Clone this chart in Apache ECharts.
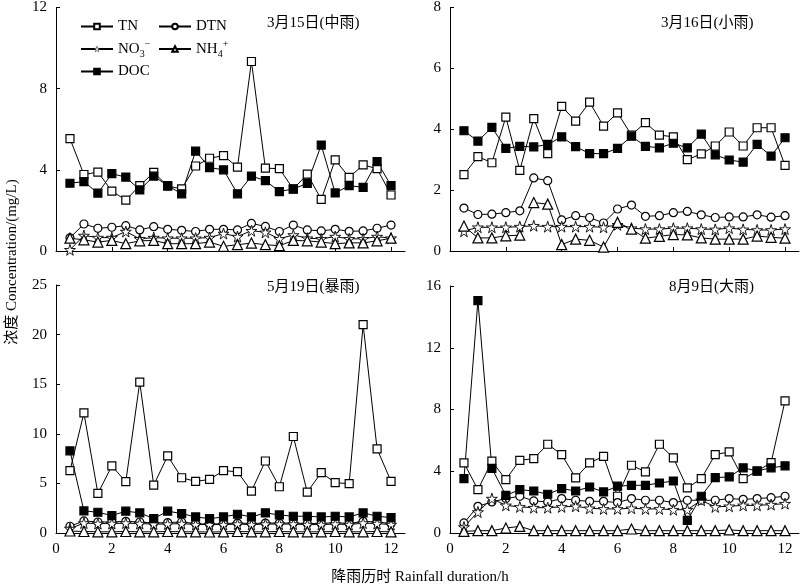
<!DOCTYPE html>
<html>
<head>
<meta charset="utf-8">
<script src="https://cdn.jsdelivr.net/npm/echarts@6/dist/echarts.min.js"></script>
<style>html,body{margin:0;padding:0;background:#fff;}#c{width:800px;height:585px;}</style>
</head>
<body>
<div id="c"></div>
<script>
// x positions (rainfall duration, h)
var xs = [0.5,1,1.5,2,2.5,3,3.5,4,4.5,5,5.5,6,6.5,7,7.5,8,8.5,9,9.5,10,10.5,11,11.5,12];
var xTicks = [0,2,4,6,8,10,12];

// 3月15日 (中雨)
var tn15  = [5.54,3.77,3.89,2.95,2.51,3.22,3.87,3.2,3.06,4.19,4.57,4.7,4.13,9.34,4.08,4.06,3.05,3.79,2.54,4.49,3.63,4.24,4.06,2.76];
var dtn15 = [0.65,1.33,1.12,1.17,1.25,1.04,1.2,1.07,1.02,0.96,1.07,1.07,1.04,1.36,1.21,0.96,1.28,1.04,0.99,1.07,0.97,0.99,1.12,1.28];
var no315 = [0.06,0.76,0.66,0.66,0.96,0.6,0.66,0.63,0.63,0.63,0.66,0.86,0.71,1.0,0.92,0.6,0.79,0.63,0.6,0.71,0.6,0.6,0.71,0.63];
var nh415 = [0.63,0.55,0.44,0.52,0.36,0.5,0.52,0.36,0.36,0.36,0.44,0.23,0.31,0.39,0.31,0.26,0.52,0.5,0.44,0.36,0.4,0.4,0.5,0.63];
var doc15 = [3.34,3.42,2.85,3.81,3.64,3.01,3.69,3.22,2.82,4.92,4.11,4.0,2.82,3.69,3.47,2.93,3.06,3.33,5.22,2.86,3.22,3.14,4.4,3.22];

// 3月16日 (小雨)
var tn16  = [2.51,3.1,2.9,4.4,2.65,4.35,3.2,4.75,4.27,4.89,4.1,4.54,3.81,4.22,3.81,3.75,3.0,3.19,3.45,3.91,3.45,4.05,4.05,2.81];
var dtn16 = [1.41,1.2,1.21,1.26,1.32,2.4,2.31,1.02,1.16,1.1,0.92,1.38,1.51,1.14,1.16,1.26,1.3,1.19,1.1,1.12,1.12,1.19,1.11,1.16];
var no316 = [0.65,0.78,0.78,0.78,0.8,0.83,0.8,0.8,0.8,0.8,0.78,0.86,0.75,0.72,0.72,0.75,0.75,0.72,0.71,0.75,0.71,0.69,0.69,0.72];
var nh416 = [0.82,0.43,0.43,0.5,0.52,1.59,1.54,0.21,0.39,0.35,0.13,0.94,0.72,0.42,0.48,0.54,0.53,0.43,0.39,0.39,0.39,0.49,0.45,0.42];
var doc16 = [3.95,3.61,4.06,3.37,3.44,3.42,3.5,3.75,3.43,3.2,3.2,3.37,3.77,3.44,3.39,3.54,3.39,3.84,3.16,2.99,2.92,3.5,3.12,3.72];

// 5月19日 (暴雨)
var tn19  = [6.28,12.1,3.99,6.76,5.17,15.2,4.83,7.77,5.57,5.2,5.4,6.28,6.18,4.22,7.26,4.66,9.73,4.12,6.08,5.07,4.97,21.0,8.48,5.2];
var dtn19 = [0.68,1.22,1.11,1.11,1.18,1.11,1.0,1.05,1.11,0.95,0.88,0.95,1.0,0.95,1.0,1.0,1.0,0.95,0.95,1.05,0.95,1.18,1.11,0.95];
var no319 = [0.45,1.0,0.95,0.95,1.0,0.95,0.9,0.9,0.95,0.85,0.85,0.85,0.9,0.85,0.9,0.9,0.9,0.85,0.85,0.9,0.85,1.0,0.95,0.85];
var nh419 = [0.2,0.15,0.12,0.12,0.15,0.12,0.12,0.15,0.12,0.12,0.1,0.12,0.15,0.12,0.12,0.15,0.12,0.12,0.12,0.15,0.12,0.12,0.15,0.12];
var doc19 = [8.28,2.23,2.09,1.76,2.2,2.03,1.45,2.2,1.96,1.62,1.45,1.62,1.89,1.62,2.03,1.82,1.69,1.69,1.62,1.69,1.62,2.03,1.69,1.55];

// 8月9日 (大雨)
var tn9  = [4.54,2.81,4.65,3.46,4.71,4.82,5.75,5.08,3.57,4.54,4.97,2.38,4.39,3.96,5.75,4.86,2.92,3.52,5.08,5.25,3.52,4.0,4.56,8.56];
var dtn9 = [0.65,1.73,2.01,2.23,2.38,2.08,2.01,2.23,2.12,2.05,2.05,1.97,2.23,2.12,2.12,1.97,2.12,2.12,2.12,2.23,2.18,2.23,2.29,2.38];
var no39 = [0.39,1.36,2.23,1.79,1.69,1.64,1.64,1.69,1.73,1.6,1.56,1.56,1.6,1.56,1.56,1.51,1.51,2.12,1.69,1.73,1.79,1.79,1.84,1.9];
var nh49 = [0.1,0.15,0.15,0.32,0.43,0.15,0.15,0.15,0.15,0.15,0.15,0.15,0.26,0.15,0.15,0.15,0.15,0.15,0.15,0.2,0.15,0.15,0.15,0.15];
var doc9 = [3.52,15.05,4.19,2.44,2.81,2.72,2.51,2.88,2.72,2.98,2.66,3.03,3.09,3.09,3.24,3.37,0.82,2.38,3.59,3.63,4.22,4.02,4.22,4.35];

var panelTitles = ['3月15日(中雨)','3月16日(小雨)','5月19日(暴雨)','8月9日(大雨)'];
var yMax = [12, 8, 25, 16];
var yInterval = [4, 2, 5, 4];

var panels = [
  {TN: tn15, DTN: dtn15, NO3: no315, NH4: nh415, DOC: doc15},
  {TN: tn16, DTN: dtn16, NO3: no316, NH4: nh416, DOC: doc16},
  {TN: tn19, DTN: dtn19, NO3: no319, NH4: nh419, DOC: doc19},
  {TN: tn9,  DTN: dtn9,  NO3: no39,  NH4: nh49,  DOC: doc9}
];

var FONT = '"Liberation Serif","Times New Roman","Noto Sans CJK SC",serif';
var STAR = 'path://M50,0 L61,35 L98,35 L68,57 L79,91 L50,70 L21,91 L32,57 L2,35 L39,35 Z';
var styles = {
  TN:  {symbol: 'rect', size: 8, fill: '#fff', bw: 1.2},
  DTN: {symbol: 'circle', size: 8, fill: '#fff', bw: 1.2},
  NO3: {symbol: STAR, size: 11, fill: '#fff', bw: 0.9},
  NH4: {symbol: 'triangle', size: 10, fill: '#fff', bw: 1.2},
  DOC: {symbol: 'rect', size: 8, fill: '#000', bw: 1.2}
};
var order = ['TN','DTN','NO3','NH4','DOC'];

var grids = [
  {left: 56, top: 5, width: 349, height: 246},
  {left: 450, top: 4, width: 349, height: 247},
  {left: 56, top: 285, width: 349, height: 248},
  {left: 450, top: 286, width: 349, height: 247}
];

var xAxes = [], yAxes = [], series = [];
for (var p = 0; p < 4; p++) {
  var bottom = p >= 2;
  xAxes.push({
    type: 'value', gridIndex: p, min: 0, max: 12.5,
    axisLine: {show: true, onZero: false, lineStyle: {color: '#000', width: 1}},
    axisTick: {show: true, inside: true, length: 4, customValues: xTicks, lineStyle: {color: '#000'}},
    axisLabel: {show: bottom, customValues: xTicks, color: '#000', fontFamily: FONT, fontSize: 15, margin: 9},
    splitLine: {show: false}
  });
  yAxes.push({
    type: 'value', gridIndex: p, min: 0, max: yMax[p], interval: yInterval[p],
    axisLine: {show: true, lineStyle: {color: '#000', width: 1}},
    axisTick: {show: true, inside: true, length: 4, lineStyle: {color: '#000'}},
    axisLabel: {color: '#000', fontFamily: FONT, fontSize: 15, margin: 9},
    splitLine: {show: false}
  });
  order.forEach(function (name) {
    var st = styles[name];
    var vals = panels[p][name];
    series.push({
      name: name, type: 'line', xAxisIndex: p, yAxisIndex: p,
      data: xs.map(function (x, i) { return [x, vals[i]]; }),
      symbol: st.symbol, symbolSize: st.size, showAllSymbol: true,
      lineStyle: {color: '#000', width: 1},
      itemStyle: {color: st.fill, borderColor: '#000', borderWidth: st.bw},
      emphasis: {disabled: true},
      silent: true
    });
  });
}

var legendText = {
  color: '#000', fontFamily: FONT, fontSize: 15,
  rich: {
    b: {fontFamily: FONT, fontSize: 15, color: '#000', lineHeight: 18},
    sub: {fontFamily: FONT, fontSize: 10, color: '#000', verticalAlign: 'bottom', lineHeight: 12, padding: [0, 0, -1, 0]},
    sup: {fontFamily: FONT, fontSize: 10, color: '#000', verticalAlign: 'top', lineHeight: 12, padding: [-1, 0, 0, 0]}
  }
};
function legendFmt(n) {
  if (n === 'NO3') return '{b|NO}{sub|3}{sup|−}';
  if (n === 'NH4') return '{b|NH}{sub|4}{sup|+}';
  return n;
}
var legendPos = [
  {name: 'TN', left: 80, top: 19},
  {name: 'DTN', left: 158, top: 19},
  {name: 'NO3', left: 80, top: 39},
  {name: 'NH4', left: 158, top: 39},
  {name: 'DOC', left: 80, top: 64}
];
var legends = legendPos.map(function (lp) {
  var item = {name: lp.name};
  if (lp.name === 'NO3') {
    item.itemStyle = {color: '#fff', borderColor: '#000', borderWidth: 0.5};
  }
  return {
    data: [item], left: lp.left, top: lp.top, padding: 0,
    itemWidth: 32, itemHeight: 7, selectedMode: false,
    formatter: legendFmt, textStyle: legendText
  };
});

var titlePos = [[267, 25], [661, 25], [267, 289], [669, 289]];
var graphics = titlePos.map(function (tp, i) {
  return {type: 'text', left: tp[0], top: tp[1] - 9, silent: true,
    style: {text: panelTitles[i], fill: '#000', font: '15px ' + FONT}};
});
graphics.push({type: 'text', x: 12, y: 262, rotation: Math.PI / 2, silent: true,
  style: {text: '浓度 Concentration/(mg/L)', fill: '#000', font: '15px ' + FONT, align: 'center', verticalAlign: 'middle'}});
graphics.push({type: 'text', x: 420, y: 577, silent: true,
  style: {text: '降雨历时 Rainfall duration/h', fill: '#000', font: '15px ' + FONT, align: 'center', verticalAlign: 'middle'}});

var chart = echarts.init(document.getElementById('c'), null, {renderer: 'canvas'});
chart.setOption({
  animation: false,
  backgroundColor: '#fff',
  grid: grids,
  xAxis: xAxes,
  yAxis: yAxes,
  legend: legends,
  graphic: graphics,
  series: series
});
</script>
</body>
</html>
